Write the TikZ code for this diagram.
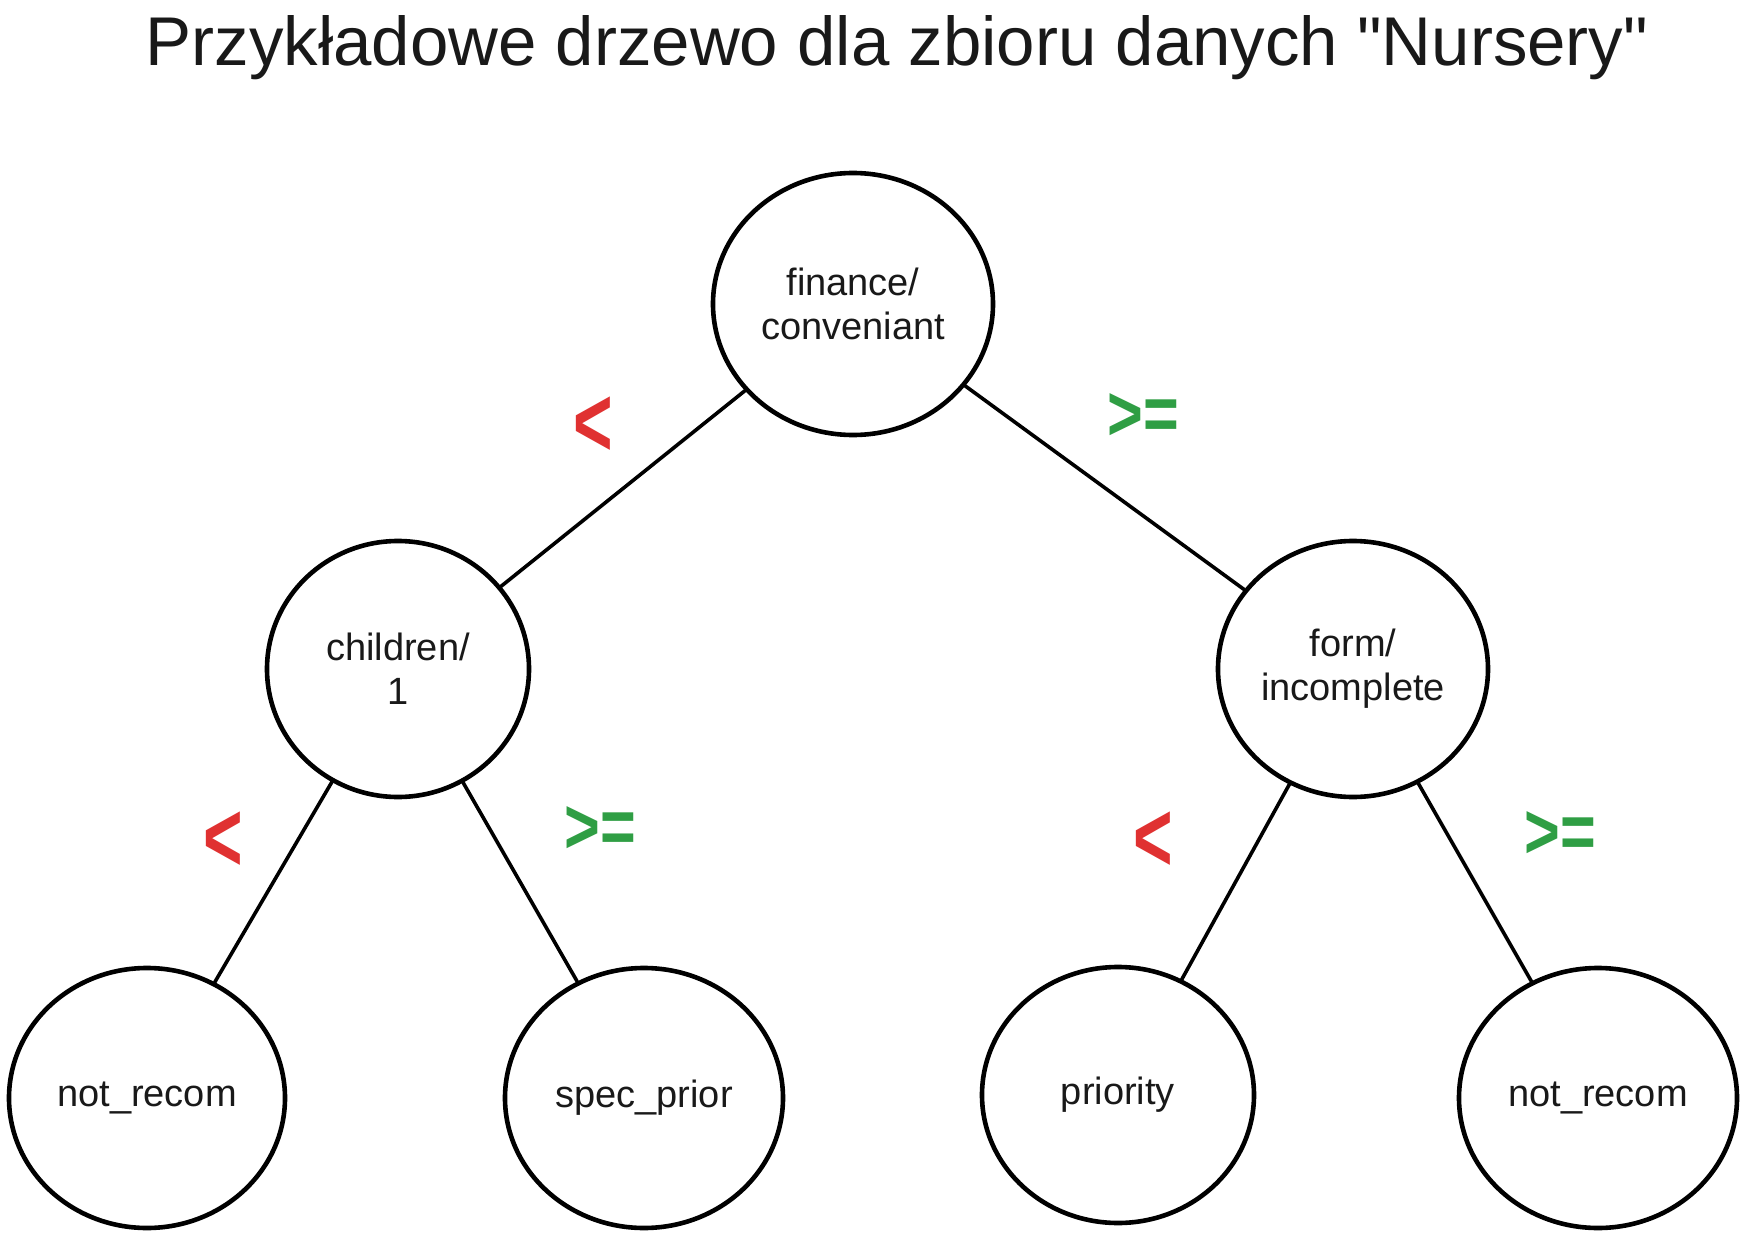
\documentclass[tikz,border=0pt]{standalone}
\usepackage{fontspec}
\setmainfont{Liberation Sans}
\usetikzlibrary{shapes.geometric}
\definecolor{lred}{HTML}{E03131}
\definecolor{lgreen}{HTML}{2F9E44}
\tikzset{
  tnode/.style={draw=black, line width=2.3pt, ellipse, inner sep=0pt, align=center,
    font=\fontsize{19}{22}\selectfont, text=black!90},
  edge/.style={draw=black, line width=1.8pt, line cap=round},
  ltlab/.style={text=lred, font=\fontsize{44}{44}\selectfont\bfseries, inner sep=0pt},
  gelab/.style={text=lgreen, font=\fontsize{34}{34}\selectfont\bfseries, inner sep=0pt},
}
\newcommand{\ltsym}{\scalebox{0.77}[1.13]{<}}
\newcommand{\gesym}{\scalebox{0.9}[1.15]{>=}}
\begin{document}
\begin{tikzpicture}[x=0.5pt, y=-0.5pt]
\useasboundingbox[fill=white] (0,0) rectangle (1742,1236);
\node[font=\fontsize{34.5}{40}\selectfont, text=black!90, inner sep=0pt] (title) at (897,48) {Przykładowe drzewo dla zbioru danych \textquotedbl Nursery\textquotedbl};
\node[tnode, minimum width=140pt, minimum height=131pt] (root) at (853,304) {finance/\\conveniant};
\node[tnode, minimum width=131pt, minimum height=128pt] (lc) at (398,669) {children/\\1};
\node[tnode, minimum width=135pt, minimum height=128pt] (rc) at (1353,669) {form/\\incomplete};
\node[tnode, minimum width=138pt, minimum height=130pt] (l1) at (147,1098) {not\_recom};
\node[tnode, minimum width=139pt, minimum height=130pt] (l2) at (644,1098) {spec\_prior};
\node[tnode, minimum width=136pt, minimum height=128pt] (l3) at (1118,1095) {priority};
\node[tnode, minimum width=139pt, minimum height=130pt] (l4) at (1598,1098) {not\_recom};
\draw[edge] (root) -- (lc);
\draw[edge] (root) -- (rc);
\draw[edge] (lc) -- (l1);
\draw[edge] (lc) -- (l2);
\draw[edge] (rc) -- (l3);
\draw[edge] (rc) -- (l4);
\node[ltlab] (lab1) at (593,427) {\ltsym};
\node[gelab] (lab2) at (1143,417) {\gesym};
\node[ltlab] (lab3) at (223,842) {\ltsym};
\node[gelab] (lab4) at (600,830) {\gesym};
\node[ltlab] (lab5) at (1153,842) {\ltsym};
\node[gelab] (lab6) at (1560,835) {\gesym};
\end{tikzpicture}
\end{document}
